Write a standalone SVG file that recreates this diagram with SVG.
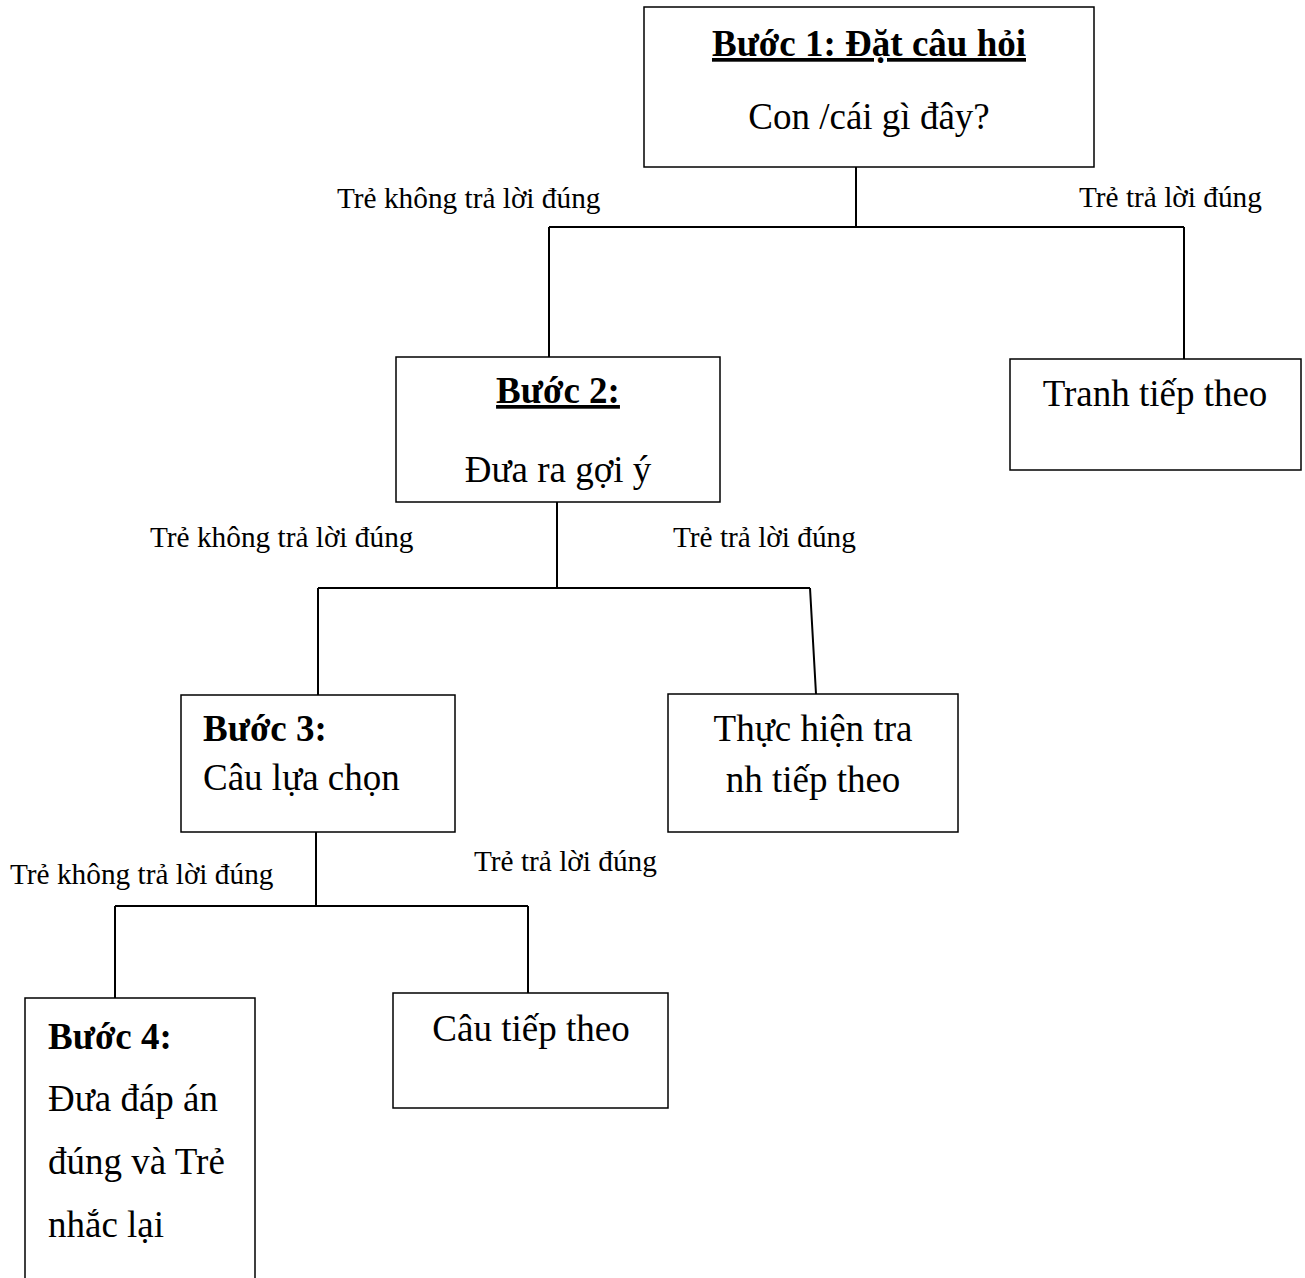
<svg xmlns="http://www.w3.org/2000/svg" width="1305" height="1278" viewBox="0 0 1305 1278">
<style>
.box{fill:#fff;stroke:#000;stroke-width:1.5}
.t{font-family:"Liberation Serif","Times New Roman",serif;font-size:37px;fill:#000}
.b{font-weight:bold}
.u{text-decoration:underline}
.lbl{font-family:"Liberation Serif","Times New Roman",serif;font-size:29.3px;fill:#000}
.c{fill:none;stroke:#000;stroke-width:2}
.m{text-anchor:middle}
</style>
<rect width="1305" height="1278" fill="#fff"/>
<g id="connectors">
<path class="c" d="M856 167V227M549 227H1184M549 227V357M1184 227V359"/>
<path class="c" d="M557 502V588M318 588H810M318 588V695M810 588L816 694"/>
<path class="c" d="M316 832V906M115 906H528M115 906V998M528 906V1003"/>
</g>
<g id="labels">
<text class="lbl" x="337" y="208">Trẻ không trả lời đúng</text>
<text class="lbl" x="1079" y="207">Trẻ trả lời đúng</text>
<text class="lbl" x="150" y="547">Trẻ không trả lời đúng</text>
<text class="lbl" x="673" y="547">Trẻ trả lời đúng</text>
<text class="lbl" x="10" y="884">Trẻ không trả lời đúng</text>
<text class="lbl" x="474" y="871">Trẻ trả lời đúng</text>
</g>
<g id="step1">
<rect class="box" x="644" y="7" width="450" height="160"/>
<text class="t b u m" x="869" y="56">Bước 1: Đặt câu hỏi</text>
<text class="t m" x="869" y="129">Con /cái gì đây?</text>
</g>
<g id="next-picture">
<rect class="box" x="1010" y="359" width="291" height="111"/>
<text class="t m" x="1155" y="406">Tranh tiếp theo</text>
</g>
<g id="step2">
<rect class="box" x="396" y="357" width="324" height="145"/>
<text class="t b u m" x="558" y="403">Bước 2:</text>
<text class="t m" x="558" y="482">Đưa ra gợi ý</text>
</g>
<g id="do-next">
<rect class="box" x="668" y="694" width="290" height="138"/>
<text class="t m" x="813" y="741">Thực hiện tra</text>
<text class="t m" x="813" y="792">nh tiếp theo</text>
</g>
<g id="step3">
<rect class="box" x="181" y="695" width="274" height="137"/>
<text class="t b" x="203" y="741">Bước 3:</text>
<text class="t" x="203" y="790">Câu lựa chọn</text>
</g>
<g id="next-question">
<rect class="box" x="393" y="993" width="275" height="115"/>
<text class="t m" x="531" y="1041">Câu tiếp theo</text>
</g>
<g id="step4">
<path class="box" d="M25 1280V998H255V1280"/>
<text class="t b" x="48" y="1049">Bước 4:</text>
<text class="t" x="48" y="1111">Đưa đáp án</text>
<text class="t" x="48" y="1174">đúng và Trẻ</text>
<text class="t" x="48" y="1237">nhắc lại</text>
</g>
</svg>
